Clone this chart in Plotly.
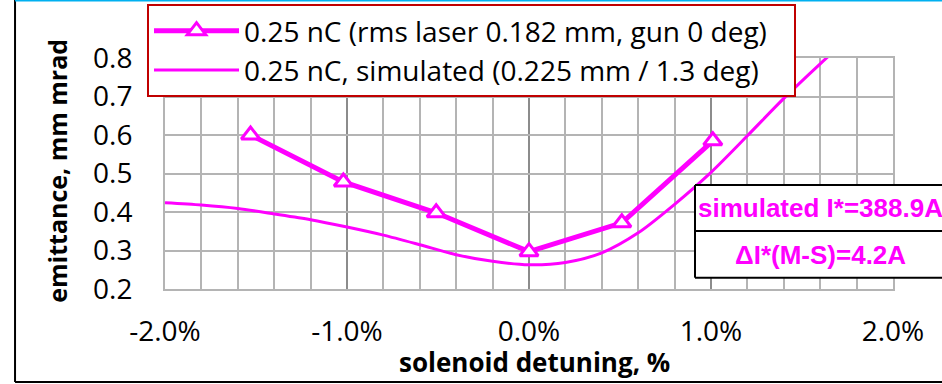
import plotly.graph_objects as go

# ---- data ----
MEAS_NAME = "0.25 nC (rms laser 0.182 mm, gun 0 deg)\u00a0\u00a0\u00a0"
MEAS_X = [-1.53, -1.02, -0.51, 0.0, 0.51, 1.01]          # solenoid detuning, %
MEAS_Y = [0.600, 0.478, 0.398, 0.297, 0.372, 0.585]      # emittance, mm mrad

SIM_NAME = "0.25 nC, simulated (0.225 mm / 1.3 deg)"
SIM_X = [-2.0, -1.8, -1.6, -1.4, -1.2, -1.0, -0.8, -0.6, -0.4, -0.2,
         0.0, 0.2, 0.4, 0.6, 0.8, 1.0, 1.2, 1.4, 1.6, 1.8]
SIM_Y = [0.424, 0.418, 0.409, 0.395, 0.380, 0.361, 0.340, 0.315, 0.289, 0.272,
         0.263, 0.269, 0.294, 0.346, 0.420, 0.503, 0.598, 0.695, 0.785, 0.870]

X_TICKS = [-2.0, -1.0, 0.0, 1.0, 2.0]
X_TICK_LABELS = ["-2.0%", "-1.0%", "0.0%", "1.0%", "2.0%"]
Y_TICKS = [0.2, 0.3, 0.4, 0.5, 0.6, 0.7, 0.8]
Y_TICK_LABELS = ["0.2", "0.3", "0.4", "0.5", "0.6", "0.7", "0.8"]

X_TITLE = "solenoid detuning, %"
Y_TITLE = "emittance, mm mrad"
NOTE_1 = "simulated I*=388.9A"
NOTE_2 = "ΔI*(M-S)=4.2A"

MAGENTA = "#ff00ff"
GRID = "#b4b4b4"
GRID_MAJOR = "#8c8c8c"

fig = go.Figure()
fig.add_trace(go.Scatter(
    x=MEAS_X, y=MEAS_Y, name=MEAS_NAME, mode="lines+markers",
    line=dict(color=MAGENTA, width=5),
    marker=dict(symbol="triangle-up", size=16, color="white",
                line=dict(color=MAGENTA, width=3)),
))
fig.add_trace(go.Scatter(
    x=SIM_X, y=SIM_Y, name=SIM_NAME, mode="lines",
    line=dict(color=MAGENTA, width=3, shape="spline", smoothing=0.8),
))

fig.update_layout(
    width=942, height=384,
    margin=dict(l=165, r=49, t=58, b=95, autoexpand=False),
    paper_bgcolor="white", plot_bgcolor="white",
    font=dict(family="Open Sans", size=28, color="black"),
    showlegend=True,
    legend=dict(x=-0.0247, y=1.234, xanchor="left", yanchor="top",
                bgcolor="white", bordercolor="#c00000", borderwidth=2,
                font=dict(family="Open Sans", size=28, color="black"),
                itemwidth=85, tracegroupgap=0),
)

fig.update_xaxes(
    range=[-2.0, 2.0], tickmode="array", tickvals=X_TICKS, ticktext=X_TICK_LABELS,
    ticks="", ticklabelstandoff=16,
    showgrid=True, gridcolor=GRID_MAJOR, gridwidth=2,
    minor=dict(tickmode="linear", tick0=-2.0, dtick=0.2, showgrid=True,
               gridcolor=GRID, gridwidth=2),
    showline=True, linecolor=GRID, linewidth=2, mirror=True, zeroline=False,
    tickfont=dict(family="Open Sans", size=28),
)
fig.update_yaxes(
    range=[0.2, 0.8], tickmode="array", tickvals=Y_TICKS, ticktext=Y_TICK_LABELS,
    ticks="", ticklabelstandoff=25,
    showgrid=True, gridcolor=GRID, gridwidth=2,
    showline=True, linecolor=GRID, linewidth=2, mirror=True, zeroline=False,
    tickfont=dict(family="Open Sans", size=28),
)

# axis titles
fig.add_annotation(xref="paper", yref="paper", x=0.508, y=-0.3147, text=X_TITLE,
                   showarrow=False, xanchor="center", yanchor="middle",
                   font=dict(family="Open Sans", size=26, weight="bold", color="black"))
fig.add_annotation(xref="paper", yref="paper", x=-0.148, y=0.513, text=Y_TITLE,
                   showarrow=False, textangle=-90, xanchor="center", yanchor="middle",
                   font=dict(family="Open Sans", size=25, weight="bold", color="black"))

# annotation box (two cells)
BX0, BX1, BY0, BYM, BY1 = 0.728, 1.3, 0.049, 0.251, 0.450
fig.add_shape(type="rect", xref="paper", yref="paper", x0=BX0, x1=BX1,
              y0=BY0, y1=BY1, line=dict(width=0), fillcolor="white", layer="above")
for yy in (BY0, BYM, BY1):
    fig.add_shape(type="line", xref="paper", yref="paper", x0=BX0, x1=BX1,
                  y0=yy, y1=yy, line=dict(color="black", width=2), layer="above")
fig.add_shape(type="line", xref="paper", yref="paper", x0=BX0, x1=BX0,
              y0=BY0, y1=BY1, line=dict(color="black", width=2), layer="above")
fig.add_annotation(xref="paper", yref="paper", x=0.901, y=0.352, text=NOTE_1,
                   showarrow=False, xanchor="center", yanchor="middle",
                   font=dict(family="Liberation Sans", size=26, color=MAGENTA, weight="bold"))
fig.add_annotation(xref="paper", yref="paper", x=0.901, y=0.147, text=NOTE_2,
                   showarrow=False, xanchor="center", yanchor="middle",
                   font=dict(family="Liberation Sans", size=26, color=MAGENTA, weight="bold"))

# chart frame
fig.add_shape(type="line", xref="paper", yref="paper", x0=-0.206, x1=-0.206,
              y0=-0.4026, y1=1.26, line=dict(color="black", width=2), layer="above")
fig.add_shape(type="line", xref="paper", yref="paper", x0=-0.206, x1=1.3,
              y0=-0.4026, y1=-0.4026, line=dict(color="black", width=2), layer="above")
fig.add_shape(type="line", xref="paper", yref="paper", x0=-0.206, x1=1.3,
              y0=1.249, y1=1.249, line=dict(color="#00b0f0", width=2), layer="above")

fig.write_html("out.html")
